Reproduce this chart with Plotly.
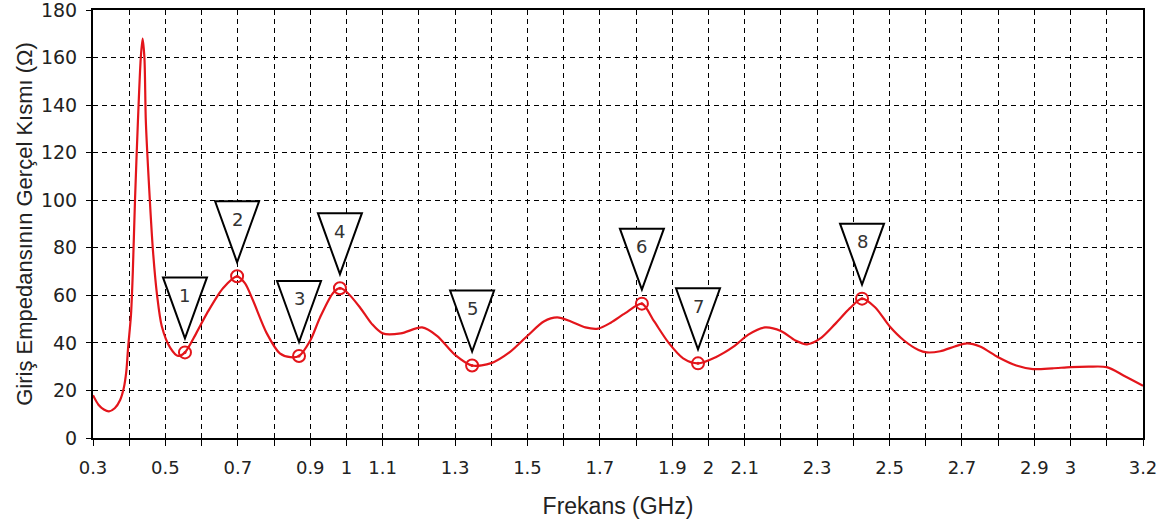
import plotly.graph_objects as go

freq = [0.300, 0.315, 0.330, 0.344, 0.360, 0.375, 0.385, 0.392, 0.397, 0.405, 0.410,
        0.416, 0.424, 0.432, 0.437, 0.442, 0.446, 0.457, 0.466, 0.477, 0.490, 0.513,
        0.535, 0.554, 0.585, 0.615, 0.659, 0.698, 0.720, 0.742, 0.780, 0.816, 0.845,
        0.869, 0.900, 0.927, 0.963, 0.982, 1.000, 1.037, 1.070, 1.100, 1.150, 1.209,
        1.250, 1.300, 1.347, 1.400, 1.450, 1.500, 1.545, 1.582, 1.620, 1.660, 1.695,
        1.730, 1.770, 1.816, 1.850, 1.890, 1.930, 1.971, 2.020, 2.070, 2.110, 2.156,
        2.200, 2.240, 2.272, 2.310, 2.350, 2.390, 2.424, 2.460, 2.500, 2.540, 2.580,
        2.603, 2.640, 2.680, 2.714, 2.750, 2.800, 2.850, 2.896, 2.950, 3.000, 3.050,
        3.100, 3.150, 3.200]
resist = [18.0, 14.0, 12.0, 11.2, 12.5, 16.0, 21.0, 28.0, 38.0, 52.0, 70.0,
          100.0, 133.0, 160.0, 168.0, 160.0, 133.0, 100.0, 78.0, 60.0, 47.0, 38.0,
          34.5, 36.0, 44.0, 52.5, 63.0, 68.0, 65.0, 57.8, 44.0, 35.6, 34.0,
          34.5, 41.0, 50.7, 61.0, 63.0, 61.5, 55.0, 48.0, 44.0, 44.0, 46.5,
          43.0, 35.0, 30.5, 31.5, 36.0, 43.0, 49.0, 50.7, 49.0, 46.5, 46.0,
          48.5, 52.5, 56.5, 49.0, 40.0, 33.5, 31.4, 34.0, 38.5, 43.5, 46.5,
          45.0, 41.0, 39.4, 42.0, 48.0, 54.5, 58.6, 55.0, 47.0, 41.0, 37.0,
          36.0, 36.5, 38.5, 39.8, 38.5, 34.0, 30.5, 29.0, 29.3, 29.8, 30.0,
          29.8, 26.0, 22.0]

# numbered markers
mark_f = [0.554, 0.698, 0.869, 0.982, 1.347, 1.816, 1.971, 2.424]
mark_r = [36.0, 68.0, 34.5, 63.0, 30.5, 56.5, 31.4, 58.6]
mark_lbl = ["1", "2", "3", "4", "5", "6", "7", "8"]

x_ticks = [round(0.3 + 0.1 * i, 1) for i in range(30)]
x_labels = ["0.3", "", "0.5", "", "0.7", "", "0.9", "1", "1.1", "", "1.3", "", "1.5", "",
            "1.7", "", "1.9", "2", "2.1", "", "2.3", "", "2.5", "", "2.7", "", "2.9", "3",
            "", "3.2"]
y_ticks = [0, 20, 40, 60, 80, 100, 120, 140, 160, 180]

red = "#e3151b"

fig = go.Figure()
fig.add_trace(go.Scatter(x=freq, y=resist, mode="lines",
                         line=dict(color=red, width=2.2, shape="spline", smoothing=0.8),
                         hoverinfo="skip"))
fig.add_trace(go.Scatter(x=mark_f, y=mark_r, mode="markers",
                         marker=dict(symbol="circle-open", size=12, color=red,
                                     line=dict(width=2, color=red))))
fig.add_trace(go.Scatter(x=mark_f, y=mark_r, mode="markers",
                         marker=dict(symbol="circle", size=3, color=red)))

# inverted triangle flags above each marker (pixel sized, anchored on marker)
for f, r, lbl in zip(mark_f, mark_r, mark_lbl):
    fig.add_shape(type="path", xref="x", yref="y", xsizemode="pixel", ysizemode="pixel",
                  xanchor=f, yanchor=r,
                  path="M 0 14 L -22 75 L 22 75 Z",
                  line=dict(color="black", width=2), fillcolor="white")
    fig.add_annotation(x=f, y=r, text=lbl, showarrow=False, yshift=57,
                       font=dict(family="DejaVu Sans", size=18, color="#333333"))

fig.update_layout(
    width=1175, height=528,
    margin=dict(l=93, r=32, t=10, b=90, autoexpand=False),
    paper_bgcolor="white", plot_bgcolor="white",
    showlegend=False,
    font=dict(family="DejaVu Sans", color="#222222"),
)
fig.update_xaxes(
    range=[0.3, 3.2], tickmode="array", tickvals=x_ticks, ticktext=x_labels,
    showgrid=True, gridcolor="black", gridwidth=1.2, griddash="5px,4px",
    showline=True, linecolor="black", linewidth=2, mirror=True,
    ticks="outside", ticklen=6, tickcolor="black", ticklabelstandoff=6,
    tickfont=dict(family="DejaVu Sans", size=18, color="#222222"),
    title=dict(text="Frekans (GHz)", standoff=21,
               font=dict(family="Liberation Sans", size=23, color="#222222")),
    zeroline=False, automargin=False,
)
fig.update_yaxes(
    range=[0, 180], tickmode="array", tickvals=y_ticks,
    showgrid=True, gridcolor="black", gridwidth=1.2, griddash="5px,4px",
    showline=True, linecolor="black", linewidth=2, mirror=True,
    ticks="outside", ticklen=5, tickcolor="black", ticklabelstandoff=5,
    ticklabeloverflow="allow",
    tickfont=dict(family="DejaVu Sans", size=19, color="#222222"),
    title=dict(text="Giriş Empedansının Gerçel Kısmı (Ω)", standoff=2,
               font=dict(family="Liberation Sans", size=22, color="#222222")),
    zeroline=False, automargin=False,
)

# the page body has a default 8px margin; drop it so the figure sits at the corner
fig.write_html("out.html", config={"displayModeBar": False},
               post_script="document.body.style.margin='0';")
